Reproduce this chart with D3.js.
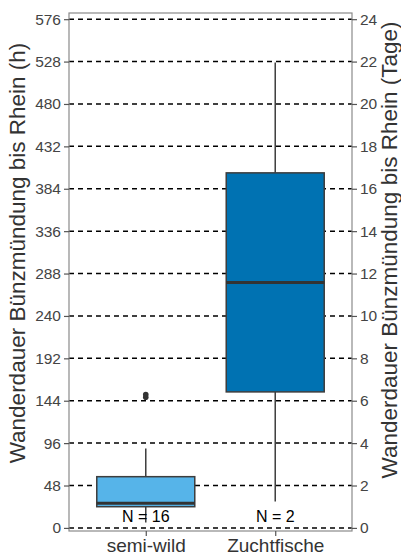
<!DOCTYPE html>
<html>
<head>
<meta charset="utf-8">
<script src="https://cdn.jsdelivr.net/npm/d3@7"></script>
<style>
  html, body { margin: 0; padding: 0; background: #fff; }
  svg { display: block; font-family: "Liberation Sans", Arial, sans-serif; }
</style>
</head>
<body>
<svg id="chart" width="401" height="556"></svg>
<script>
// Migration time from the Bünz mouth to the Rhine, per fish group
const groups = ["semi-wild", "Zuchtfische"];
const counts = [16, 2];
// five-number summaries in hours: lower whisker, Q1, median, Q3, upper whisker
const whiskerLow = [6, 30];
const q1 = [24, 154];
const medians = [28, 278];
const q3 = [58, 402];
const whiskerHigh = [90, 527];
const outliers = [[148, 151], []];
const boxColors = ["#56B4E9", "#0072B2"];

const hourTicks = [0, 48, 96, 144, 192, 240, 288, 336, 384, 432, 480, 528, 576];
const dayTicks = [0, 2, 4, 6, 8, 10, 12, 14, 16, 18, 20, 22, 24];

const svg = d3.select("#chart");
const plotLeft = 69, plotRight = 352, plotTop = 13, plotBottom = 531;

const y = d3.scaleLinear().domain([-3.5, 583]).range([plotBottom, plotTop]);
const yDays = d3.scaleLinear().domain([-3.5 / 24, 583 / 24]).range([plotBottom, plotTop]);
const x = d3.scalePoint().domain(groups).range([plotLeft, plotRight]).padding(0.593);
const boxW = 98;

// dashed reference lines at each hour tick
svg.append("g")
  .selectAll("line")
  .data(hourTicks)
  .join("line")
  .attr("x1", plotLeft).attr("x2", plotRight)
  .attr("y1", d => y(d)).attr("y2", d => y(d))
  .attr("stroke", "#000")
  .attr("stroke-width", 1.5)
  .attr("stroke-dasharray", "5,4");

// boxes
const boxes = svg.append("g")
  .selectAll("g")
  .data(groups)
  .join("g");

boxes.append("line")
  .attr("x1", d => x(d)).attr("x2", d => x(d))
  .attr("y1", (d, i) => y(whiskerLow[i])).attr("y2", (d, i) => y(q1[i]))
  .attr("stroke", "#3d3d3d").attr("stroke-width", 1.5);

boxes.append("line")
  .attr("x1", d => x(d)).attr("x2", d => x(d))
  .attr("y1", (d, i) => y(q3[i])).attr("y2", (d, i) => y(whiskerHigh[i]))
  .attr("stroke", "#3d3d3d").attr("stroke-width", 1.5);

boxes.append("rect")
  .attr("x", d => x(d) - boxW / 2)
  .attr("width", boxW)
  .attr("y", (d, i) => y(q3[i]))
  .attr("height", (d, i) => y(q1[i]) - y(q3[i]))
  .attr("fill", (d, i) => boxColors[i])
  .attr("stroke", "#3d3d3d")
  .attr("stroke-width", 1.5);

boxes.append("line")
  .attr("x1", d => x(d) - boxW / 2).attr("x2", d => x(d) + boxW / 2)
  .attr("y1", (d, i) => y(medians[i])).attr("y2", (d, i) => y(medians[i]))
  .attr("stroke", "#333").attr("stroke-width", 3);

boxes.each(function (d, i) {
  d3.select(this).selectAll("circle")
    .data(outliers[i])
    .join("circle")
    .attr("cx", x(d))
    .attr("cy", v => y(v))
    .attr("r", 2.8)
    .attr("fill", "#333");
});

// sample sizes
svg.append("g")
  .selectAll("text")
  .data(groups)
  .join("text")
  .attr("x", d => x(d))
  .attr("y", 522)
  .attr("text-anchor", "middle")
  .attr("font-size", 16)
  .attr("fill", "#000")
  .text((d, i) => "N = " + counts[i]);

// frame
svg.append("rect")
  .attr("x", plotLeft).attr("y", plotTop)
  .attr("width", plotRight - plotLeft).attr("height", plotBottom - plotTop)
  .attr("fill", "none")
  .attr("stroke", "#8a8a8a")
  .attr("stroke-width", 1.2);

// axes
const styleAxis = g => {
  g.select(".domain").remove();
  g.selectAll(".tick line").attr("stroke", "#555").attr("stroke-width", 1.2);
  g.selectAll(".tick text").attr("fill", "#444").attr("font-size", 15.5)
    .attr("font-family", "Liberation Sans, Arial, sans-serif");
};

svg.append("g")
  .attr("transform", `translate(${plotLeft},0)`)
  .call(d3.axisLeft(y).tickValues(hourTicks).tickSize(5).tickPadding(3))
  .call(styleAxis);

svg.append("g")
  .attr("transform", `translate(${plotRight},0)`)
  .call(d3.axisRight(yDays).tickValues(dayTicks).tickSize(5).tickPadding(3))
  .call(styleAxis);

const xAxis = svg.append("g")
  .attr("transform", `translate(0,${plotBottom})`)
  .call(d3.axisBottom(x).tickSize(5).tickPadding(4));
xAxis.select(".domain").remove();
xAxis.selectAll(".tick line").attr("stroke", "#555").attr("stroke-width", 1.2);
xAxis.selectAll(".tick text").attr("fill", "#333").attr("font-size", 19)
  .attr("font-family", "Liberation Sans, Arial, sans-serif")
  .attr("dy", "0.62em");

// axis titles
svg.append("text")
  .attr("transform", `translate(25,253) rotate(-90)`)
  .attr("text-anchor", "middle")
  .attr("font-size", 22.5)
  .attr("fill", "#333")
  .text("Wanderdauer Bünzmündung bis Rhein (h)");

svg.append("text")
  .attr("transform", `translate(397,250) rotate(-90)`)
  .attr("text-anchor", "middle")
  .attr("font-size", 22.5)
  .attr("fill", "#333")
  .text("Wanderdauer Bünzmündung bis Rhein (Tage)");
</script>
</body>
</html>
